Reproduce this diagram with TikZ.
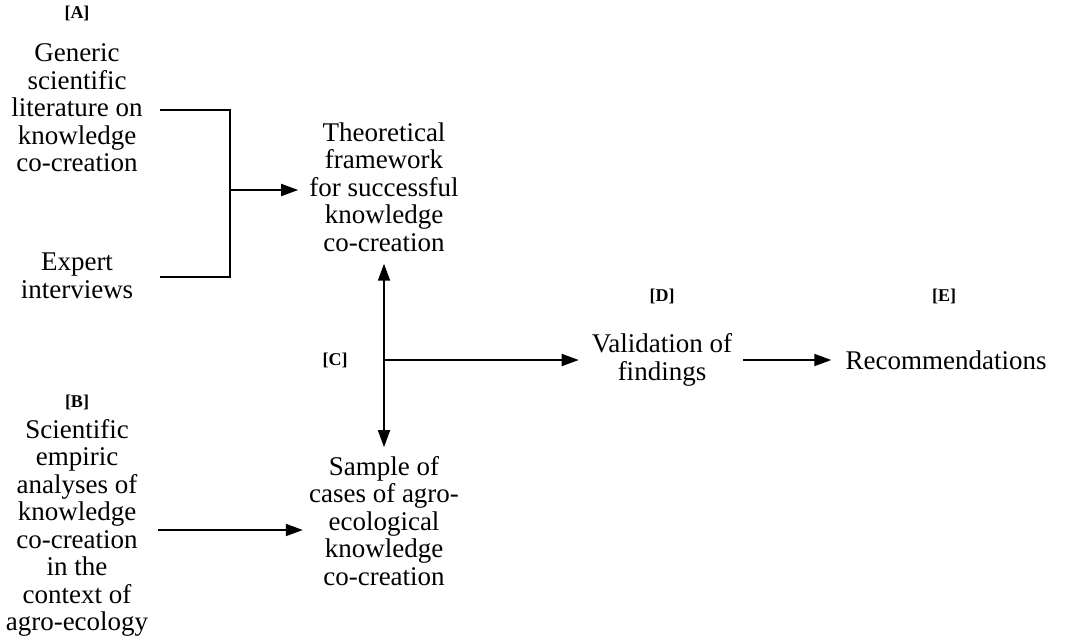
\documentclass[tikz,border=0pt]{standalone}
\usepackage{fontspec}
\setmainfont{Liberation Serif}
\usetikzlibrary{arrows.meta}
\begin{document}
\begin{tikzpicture}[x=1pt,y=-1pt,
  txt/.style={align=center,inner sep=0pt,font=\fontsize{27}{27.5}\selectfont},
  lbl/.style={inner sep=0pt,font=\fontsize{18}{20}\selectfont\bfseries},
  ln/.style={line width=1.8pt},
  arr/.style={line width=1.8pt,-{Triangle[length=17pt,width=12pt]}}]
\useasboundingbox (0,0) rectangle (1065,640);
% labels
\node[lbl] (LA) at (77,13) {[A]};
\node[lbl] (LB) at (77,402) {[B]};
\node[lbl] (LC) at (335,360) {[C]};
\node[lbl] (LD) at (662,296) {[D]};
\node[lbl] (LE) at (944,296) {[E]};
% text nodes
\node[txt] (A1) at (77,108) {Generic\\scientific\\literature on\\knowledge\\co-creation};
\node[txt] (A2) at (77,276) {Expert\\interviews};
\node[txt] (T) at (384,187) {Theoretical\\framework\\for successful\\knowledge\\co-creation};
\node[txt] (B) at (77,528) {Scientific\\empiric\\analyses of\\knowledge\\co-creation\\in the\\context of\\agro-ecology};
\node[txt] (S) at (384,521) {Sample of\\cases of agro-\\ecological\\knowledge\\co-creation};
\node[txt] (V) at (662,360) {Validation of\\findings};
\node[txt] (R) at (946,360) {Recommendations};
% bracket
\coordinate (a1) at (160,110);
\coordinate (a2) at (160,277);
\coordinate (jt) at (230,110);
\coordinate (jb) at (230,277);
\coordinate (jm) at (230,190);
\draw[ln] (a1) -- (jt) -- (jb) -- (a2);
\draw[arr,shorten >=11pt] (jm) -- (jm -| T.west);
% central cross
\coordinate (c) at (384,360);
\draw[arr,shorten >=12pt] (c) -- (T.south);
\draw[arr,shorten >=9pt] (c) -- (S.north);
\draw[arr,shorten >=13pt] (c) -- (c -| V.west);
\draw[arr,shorten <=11pt,shorten >=14pt] (V.east |- c) -- (R.west |- c);
% B to S
\coordinate (b1) at (158,530);
\draw[arr,shorten >=6pt] (b1) -- (b1 -| S.west);
\end{tikzpicture}
\end{document}
